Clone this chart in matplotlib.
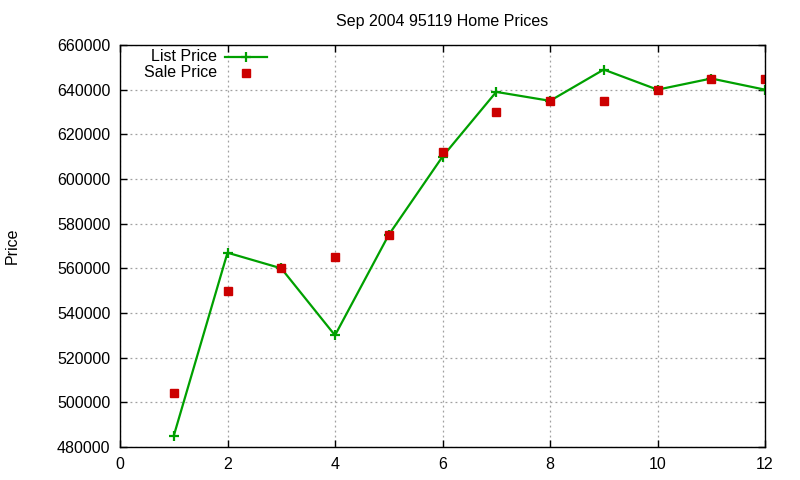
import matplotlib
matplotlib.use('Agg')
import matplotlib.pyplot as plt

plt.rcParams['font.family'] = ['Liberation Sans', 'DejaVu Sans']

months = [1, 2, 3, 4, 5, 6, 7, 8, 9, 10, 11, 12]
list_price = [485000, 567000, 560000, 530000, 575000, 610000, 639000, 635000, 649000, 640000, 645000, 640000]
sale_price = [504000, 550000, 560000, 565000, 575000, 612000, 630000, 635000, 635000, 640000, 645000, 645000]

green = '#00a000'
red = '#cc0000'
fs = 11.5

fig = plt.figure(figsize=(8, 4.8), dpi=100)
ax = fig.add_axes([0.15, 0.06875, 0.80625, 0.8375])

ax.plot(months, list_price, color=green, lw=1.6, marker='+', markersize=7, mew=1.6)
ax.plot(months, sale_price, color=red, lw=0, marker='s', markersize=5.5)

ax.set_xlim(0, 12)
ax.set_ylim(480000, 660000)
ax.set_xticks(range(0, 13, 2))
ax.set_yticks(range(480000, 660001, 20000))
ax.tick_params(direction='in', top=True, right=True, labelsize=fs, length=5, width=1)
ax.tick_params(axis='y', pad=7)
ax.tick_params(axis='x', pad=7)
ax.grid(True, color='#a0a0a0', linestyle=(0, (1.5, 2.5)), lw=0.9)
for s in ax.spines.values():
    s.set_linewidth(1.0)

ax.set_title('Sep 2004 95119 Home Prices', fontsize=fs, pad=14)
ax.set_ylabel('Price', fontsize=fs)
ax.yaxis.set_label_coords(-0.155, 0.5)

# gnuplot-style key, text right aligned, sample to the right
ax.text(0.151, 0.972, 'List Price', transform=ax.transAxes, ha='right', va='center', fontsize=fs)
ax.text(0.151, 0.932, 'Sale Price', transform=ax.transAxes, ha='right', va='center', fontsize=fs)
ax.plot([0.163, 0.228], [0.970, 0.970], transform=ax.transAxes, color=green, lw=1.6, clip_on=False)
ax.plot([0.196], [0.970], transform=ax.transAxes, color=green, marker='+', markersize=7, mew=1.6, clip_on=False)
ax.plot([0.196], [0.930], transform=ax.transAxes, color=red, marker='s', markersize=5.5, lw=0, clip_on=False)

fig.savefig('out.png', dpi=100)
